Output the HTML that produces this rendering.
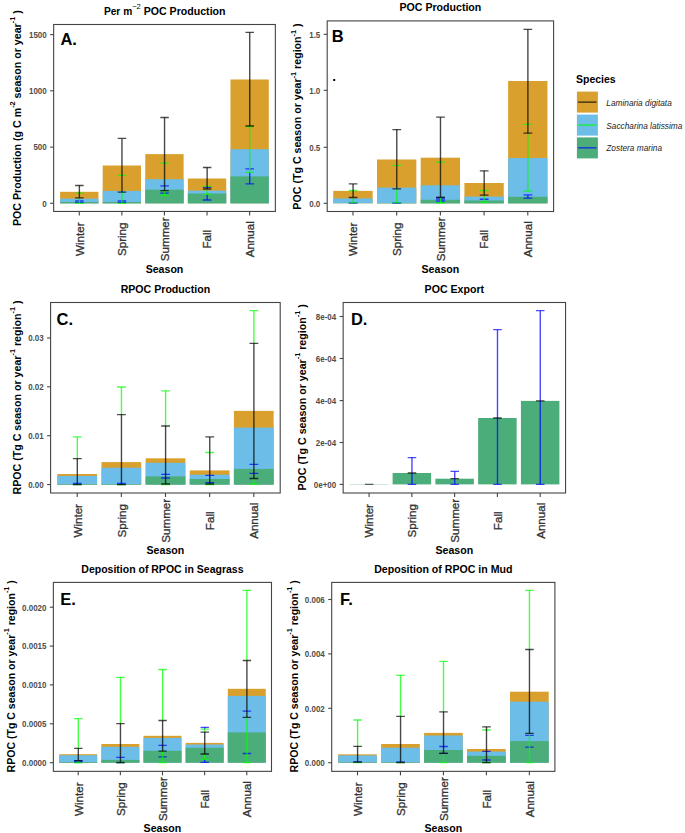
<!DOCTYPE html><html><head><meta charset="utf-8"><style>
html,body{margin:0;padding:0;background:#fff;width:685px;height:833px;overflow:hidden}
svg{display:block}
text{font-family:"Liberation Sans", sans-serif}
</style></head><body>
<svg width="685" height="833" viewBox="0 0 685 833">
<rect width="685" height="833" fill="#fff"/>
<rect x="60.1" y="191.8" width="38.33" height="11.5" fill="#DAA02D"/>
<rect x="60.1" y="198.6" width="38.33" height="4.7" fill="#6CBDE7"/>
<rect x="60.1" y="202" width="38.33" height="1.3" fill="#4BAD7A"/>
<rect x="102.69" y="165.5" width="38.33" height="37.8" fill="#DAA02D"/>
<rect x="102.69" y="190.9" width="38.33" height="12.4" fill="#6CBDE7"/>
<rect x="102.69" y="202" width="38.33" height="1.3" fill="#4BAD7A"/>
<rect x="145.28" y="154.1" width="38.33" height="49.2" fill="#DAA02D"/>
<rect x="145.28" y="179.2" width="38.33" height="24.1" fill="#6CBDE7"/>
<rect x="145.28" y="189.7" width="38.33" height="13.6" fill="#4BAD7A"/>
<rect x="187.88" y="178.5" width="38.33" height="24.8" fill="#DAA02D"/>
<rect x="187.88" y="190.6" width="38.33" height="12.7" fill="#6CBDE7"/>
<rect x="187.88" y="193.5" width="38.33" height="9.8" fill="#4BAD7A"/>
<rect x="230.47" y="79.5" width="38.33" height="123.8" fill="#DAA02D"/>
<rect x="230.47" y="149.2" width="38.33" height="54.1" fill="#6CBDE7"/>
<rect x="230.47" y="176.4" width="38.33" height="26.9" fill="#4BAD7A"/>
<path d="M75.11 200.8H83.63M75.11 202.4H83.63" stroke="#0000FF" stroke-width="1.3" stroke-opacity="0.7" fill="none"/>
<path d="M79.37 197.8V203.4" stroke="#00FF00" stroke-width="1.4" stroke-opacity="0.72" fill="none"/>
<path d="M75.11 193.2H83.63M75.11 203.4H83.63" stroke="#00FF00" stroke-width="1.3" stroke-opacity="0.7" fill="none"/>
<path d="M79.37 185.5V197.8" stroke="#000000" stroke-width="1.4" stroke-opacity="0.72" fill="none"/>
<path d="M75.11 185.5H83.63M75.11 197.8H83.63" stroke="#000000" stroke-width="1.3" stroke-opacity="0.7" fill="none"/>
<path d="M117.7 200.8H126.22M117.7 202.4H126.22" stroke="#0000FF" stroke-width="1.3" stroke-opacity="0.7" fill="none"/>
<path d="M121.96 192.2V203.4" stroke="#00FF00" stroke-width="1.4" stroke-opacity="0.72" fill="none"/>
<path d="M117.7 175.3H126.22M117.7 203.4H126.22" stroke="#00FF00" stroke-width="1.3" stroke-opacity="0.7" fill="none"/>
<path d="M121.96 138.4V192.2" stroke="#000000" stroke-width="1.4" stroke-opacity="0.72" fill="none"/>
<path d="M117.7 138.4H126.22M117.7 192.2H126.22" stroke="#000000" stroke-width="1.3" stroke-opacity="0.7" fill="none"/>
<path d="M160.29 185.8H168.81M160.29 193.2H168.81" stroke="#0000FF" stroke-width="1.3" stroke-opacity="0.7" fill="none"/>
<path d="M164.55 190.6V195.5" stroke="#00FF00" stroke-width="1.4" stroke-opacity="0.72" fill="none"/>
<path d="M160.29 163.1H168.81M160.29 195.5H168.81" stroke="#00FF00" stroke-width="1.3" stroke-opacity="0.7" fill="none"/>
<path d="M164.55 117.5V190.6" stroke="#000000" stroke-width="1.4" stroke-opacity="0.72" fill="none"/>
<path d="M160.29 117.5H168.81M160.29 190.6H168.81" stroke="#000000" stroke-width="1.3" stroke-opacity="0.7" fill="none"/>
<path d="M207.14 194.4V200" stroke="#0000FF" stroke-width="1.4" stroke-opacity="0.72" fill="none"/>
<path d="M202.88 187.4H211.4M202.88 200H211.4" stroke="#0000FF" stroke-width="1.3" stroke-opacity="0.7" fill="none"/>
<path d="M207.14 189V194.4" stroke="#00FF00" stroke-width="1.4" stroke-opacity="0.72" fill="none"/>
<path d="M202.88 186.4H211.4M202.88 194.4H211.4" stroke="#00FF00" stroke-width="1.3" stroke-opacity="0.7" fill="none"/>
<path d="M207.14 167.5V189" stroke="#000000" stroke-width="1.4" stroke-opacity="0.72" fill="none"/>
<path d="M202.88 167.5H211.4M202.88 189H211.4" stroke="#000000" stroke-width="1.3" stroke-opacity="0.7" fill="none"/>
<path d="M249.73 172.4V183.9" stroke="#0000FF" stroke-width="1.4" stroke-opacity="0.72" fill="none"/>
<path d="M245.47 168.9H253.99M245.47 183.9H253.99" stroke="#0000FF" stroke-width="1.3" stroke-opacity="0.7" fill="none"/>
<path d="M249.73 126.5V172.4" stroke="#00FF00" stroke-width="1.4" stroke-opacity="0.72" fill="none"/>
<path d="M245.47 126.5H253.99M245.47 172.4H253.99" stroke="#00FF00" stroke-width="1.3" stroke-opacity="0.7" fill="none"/>
<path d="M249.73 32.4V126" stroke="#000000" stroke-width="1.4" stroke-opacity="0.72" fill="none"/>
<path d="M245.47 32.4H253.99M245.47 126H253.99" stroke="#000000" stroke-width="1.3" stroke-opacity="0.7" fill="none"/>
<rect x="53.65" y="24.5" width="221.7" height="186.95" fill="none" stroke="#444444" stroke-width="1.1"/>
<path d="M50.15 203.3H53.65" stroke="#444444" stroke-width="1.1"/>
<text transform="translate(46.75 206.6) scale(1 1.13)" font-size="8.0" font-weight="bold" fill="#4D4D4D" text-anchor="end">0</text>
<path d="M50.15 147.1H53.65" stroke="#444444" stroke-width="1.1"/>
<text transform="translate(46.75 150.4) scale(1 1.13)" font-size="8.0" font-weight="bold" fill="#4D4D4D" text-anchor="end">500</text>
<path d="M50.15 90.8H53.65" stroke="#444444" stroke-width="1.1"/>
<text transform="translate(46.75 94.1) scale(1 1.13)" font-size="8.0" font-weight="bold" fill="#4D4D4D" text-anchor="end">1000</text>
<path d="M50.15 34.6H53.65" stroke="#444444" stroke-width="1.1"/>
<text transform="translate(46.75 37.9) scale(1 1.13)" font-size="8.0" font-weight="bold" fill="#4D4D4D" text-anchor="end">1500</text>
<path d="M79.27 211.45V215.45" stroke="#444444" stroke-width="1.1"/>
<text transform="translate(83.67 239.25) rotate(-90)" font-size="11.6" fill="#333" stroke="#333" stroke-width="0.3" text-anchor="middle">Winter</text>
<path d="M121.86 211.45V215.45" stroke="#444444" stroke-width="1.1"/>
<text transform="translate(126.26 239.25) rotate(-90)" font-size="11.6" fill="#333" stroke="#333" stroke-width="0.3" text-anchor="middle">Spring</text>
<path d="M164.45 211.45V215.45" stroke="#444444" stroke-width="1.1"/>
<text transform="translate(168.85 239.25) rotate(-90)" font-size="11.6" fill="#333" stroke="#333" stroke-width="0.3" text-anchor="middle">Summer</text>
<path d="M207.04 211.45V215.45" stroke="#444444" stroke-width="1.1"/>
<text transform="translate(211.44 239.25) rotate(-90)" font-size="11.6" fill="#333" stroke="#333" stroke-width="0.3" text-anchor="middle">Fall</text>
<path d="M249.63 211.45V215.45" stroke="#444444" stroke-width="1.1"/>
<text transform="translate(254.03 239.25) rotate(-90)" font-size="11.6" fill="#333" stroke="#333" stroke-width="0.3" text-anchor="middle">Annual</text>
<text x="164.5" y="272.6" font-size="10.6" font-weight="bold" text-anchor="middle">Season</text>
<rect x="333.3" y="190.9" width="39.33" height="12.4" fill="#DAA02D"/>
<rect x="333.3" y="198.4" width="39.33" height="4.9" fill="#6CBDE7"/>
<rect x="377" y="159.5" width="39.33" height="43.8" fill="#DAA02D"/>
<rect x="377" y="187.6" width="39.33" height="15.7" fill="#6CBDE7"/>
<rect x="377" y="203" width="39.33" height="0.3" fill="#4BAD7A"/>
<rect x="420.71" y="157.7" width="39.33" height="45.6" fill="#DAA02D"/>
<rect x="420.71" y="185.3" width="39.33" height="18" fill="#6CBDE7"/>
<rect x="420.71" y="199.8" width="39.33" height="3.5" fill="#4BAD7A"/>
<rect x="464.41" y="183" width="39.33" height="20.3" fill="#DAA02D"/>
<rect x="464.41" y="196.6" width="39.33" height="6.7" fill="#6CBDE7"/>
<rect x="464.41" y="200.5" width="39.33" height="2.8" fill="#4BAD7A"/>
<rect x="508.12" y="81" width="39.33" height="122.3" fill="#DAA02D"/>
<rect x="508.12" y="158" width="39.33" height="45.3" fill="#6CBDE7"/>
<rect x="508.12" y="196.8" width="39.33" height="6.5" fill="#4BAD7A"/>
<path d="M353.07 202.6V203.2" stroke="#0000FF" stroke-width="1.4" stroke-opacity="0.72" fill="none"/>
<path d="M348.7 202.6H357.44M348.7 203.2H357.44" stroke="#0000FF" stroke-width="1.3" stroke-opacity="0.7" fill="none"/>
<path d="M353.07 197.5V202.6" stroke="#00FF00" stroke-width="1.4" stroke-opacity="0.72" fill="none"/>
<path d="M348.7 190.5H357.44M348.7 202.6H357.44" stroke="#00FF00" stroke-width="1.3" stroke-opacity="0.7" fill="none"/>
<path d="M353.07 183.9V197.5" stroke="#000000" stroke-width="1.4" stroke-opacity="0.72" fill="none"/>
<path d="M348.7 183.9H357.44M348.7 197.5H357.44" stroke="#000000" stroke-width="1.3" stroke-opacity="0.7" fill="none"/>
<path d="M396.77 202.6V203.2" stroke="#0000FF" stroke-width="1.4" stroke-opacity="0.72" fill="none"/>
<path d="M392.4 202.6H401.14M392.4 203.2H401.14" stroke="#0000FF" stroke-width="1.3" stroke-opacity="0.7" fill="none"/>
<path d="M396.77 188.8V202.6" stroke="#00FF00" stroke-width="1.4" stroke-opacity="0.72" fill="none"/>
<path d="M392.4 165.4H401.14M392.4 202.6H401.14" stroke="#00FF00" stroke-width="1.3" stroke-opacity="0.7" fill="none"/>
<path d="M396.77 129.6V188.8" stroke="#000000" stroke-width="1.4" stroke-opacity="0.72" fill="none"/>
<path d="M392.4 129.6H401.14M392.4 188.8H401.14" stroke="#000000" stroke-width="1.3" stroke-opacity="0.7" fill="none"/>
<path d="M440.48 197.5V202.6" stroke="#00FF00" stroke-width="1.4" stroke-opacity="0.72" fill="none"/>
<path d="M436.1 162.1H444.85M436.1 202.6H444.85" stroke="#00FF00" stroke-width="1.3" stroke-opacity="0.7" fill="none"/>
<path d="M440.48 117.2V197.5" stroke="#000000" stroke-width="1.4" stroke-opacity="0.72" fill="none"/>
<path d="M436.1 117.2H444.85M436.1 197.5H444.85" stroke="#000000" stroke-width="1.3" stroke-opacity="0.7" fill="none"/>
<path d="M479.81 199.1H488.55M479.81 199.3H488.55" stroke="#0000FF" stroke-width="1.3" stroke-opacity="0.7" fill="none"/>
<path d="M484.18 195.2V202.4" stroke="#00FF00" stroke-width="1.4" stroke-opacity="0.72" fill="none"/>
<path d="M479.81 190.5H488.55M479.81 202.4H488.55" stroke="#00FF00" stroke-width="1.3" stroke-opacity="0.7" fill="none"/>
<path d="M484.18 170.8V195.2" stroke="#000000" stroke-width="1.4" stroke-opacity="0.72" fill="none"/>
<path d="M479.81 170.8H488.55M479.81 195.2H488.55" stroke="#000000" stroke-width="1.3" stroke-opacity="0.7" fill="none"/>
<path d="M527.88 194.9V198.2" stroke="#0000FF" stroke-width="1.4" stroke-opacity="0.72" fill="none"/>
<path d="M523.51 194.9H532.25M523.51 198.2H532.25" stroke="#0000FF" stroke-width="1.3" stroke-opacity="0.7" fill="none"/>
<path d="M527.88 133.2V191.2" stroke="#00FF00" stroke-width="1.4" stroke-opacity="0.72" fill="none"/>
<path d="M523.51 124.3H532.25M523.51 191.2H532.25" stroke="#00FF00" stroke-width="1.3" stroke-opacity="0.7" fill="none"/>
<path d="M527.88 29.4V133.2" stroke="#000000" stroke-width="1.4" stroke-opacity="0.72" fill="none"/>
<path d="M523.51 29.4H532.25M523.51 133.2H532.25" stroke="#000000" stroke-width="1.3" stroke-opacity="0.7" fill="none"/>
<rect x="436.1" y="197.4" width="8.8" height="5.2" fill="#2b3ff0" fill-opacity="0.85"/>
<path d="M440.6 197.6V202.8" stroke="#00ff00" stroke-width="1.4" stroke-opacity="0.8"/>
<path d="M436.1 202.8H444.9" stroke="#00ff00" stroke-width="1.2" stroke-opacity="0.8"/>
<path d="M436.1 197.4H444.9" stroke="#000" stroke-width="1.2" stroke-opacity="0.6"/>
<rect x="327.2" y="20.9" width="226.4" height="190.6" fill="none" stroke="#444444" stroke-width="1.1"/>
<path d="M323.7 203.3H327.2" stroke="#444444" stroke-width="1.1"/>
<text transform="translate(320.3 206.6) scale(1 1.13)" font-size="8.0" font-weight="bold" fill="#4D4D4D" text-anchor="end">0.0</text>
<path d="M323.7 147.3H327.2" stroke="#444444" stroke-width="1.1"/>
<text transform="translate(320.3 150.6) scale(1 1.13)" font-size="8.0" font-weight="bold" fill="#4D4D4D" text-anchor="end">0.5</text>
<path d="M323.7 90.3H327.2" stroke="#444444" stroke-width="1.1"/>
<text transform="translate(320.3 93.6) scale(1 1.13)" font-size="8.0" font-weight="bold" fill="#4D4D4D" text-anchor="end">1.0</text>
<path d="M323.7 34.3H327.2" stroke="#444444" stroke-width="1.1"/>
<text transform="translate(320.3 37.6) scale(1 1.13)" font-size="8.0" font-weight="bold" fill="#4D4D4D" text-anchor="end">1.5</text>
<path d="M352.97 211.5V215.5" stroke="#444444" stroke-width="1.1"/>
<text transform="translate(357.37 239.3) rotate(-90)" font-size="11.6" fill="#333" stroke="#333" stroke-width="0.3" text-anchor="middle">Winter</text>
<path d="M396.67 211.5V215.5" stroke="#444444" stroke-width="1.1"/>
<text transform="translate(401.07 239.3) rotate(-90)" font-size="11.6" fill="#333" stroke="#333" stroke-width="0.3" text-anchor="middle">Spring</text>
<path d="M440.38 211.5V215.5" stroke="#444444" stroke-width="1.1"/>
<text transform="translate(444.77 239.3) rotate(-90)" font-size="11.6" fill="#333" stroke="#333" stroke-width="0.3" text-anchor="middle">Summer</text>
<path d="M484.08 211.5V215.5" stroke="#444444" stroke-width="1.1"/>
<text transform="translate(488.48 239.3) rotate(-90)" font-size="11.6" fill="#333" stroke="#333" stroke-width="0.3" text-anchor="middle">Fall</text>
<path d="M527.78 211.5V215.5" stroke="#444444" stroke-width="1.1"/>
<text transform="translate(532.18 239.3) rotate(-90)" font-size="11.6" fill="#333" stroke="#333" stroke-width="0.3" text-anchor="middle">Annual</text>
<text x="440.4" y="272.6" font-size="10.6" font-weight="bold" text-anchor="middle">Season</text>
<rect x="57.35" y="474" width="39.73" height="10.6" fill="#DAA02D"/>
<rect x="57.35" y="475.9" width="39.73" height="8.7" fill="#6CBDE7"/>
<rect x="57.35" y="484" width="39.73" height="0.6" fill="#4BAD7A"/>
<rect x="101.49" y="462.1" width="39.73" height="22.5" fill="#DAA02D"/>
<rect x="101.49" y="467.7" width="39.73" height="16.9" fill="#6CBDE7"/>
<rect x="101.49" y="484" width="39.73" height="0.6" fill="#4BAD7A"/>
<rect x="145.64" y="458.3" width="39.73" height="26.3" fill="#DAA02D"/>
<rect x="145.64" y="462.8" width="39.73" height="21.8" fill="#6CBDE7"/>
<rect x="145.64" y="476.4" width="39.73" height="8.2" fill="#4BAD7A"/>
<rect x="189.78" y="470.4" width="39.73" height="14.2" fill="#DAA02D"/>
<rect x="189.78" y="474.7" width="39.73" height="9.9" fill="#6CBDE7"/>
<rect x="189.78" y="479" width="39.73" height="5.6" fill="#4BAD7A"/>
<rect x="233.92" y="410.9" width="39.73" height="73.7" fill="#DAA02D"/>
<rect x="233.92" y="427.6" width="39.73" height="57" fill="#6CBDE7"/>
<rect x="233.92" y="468.9" width="39.73" height="15.7" fill="#4BAD7A"/>
<path d="M72.9 483.4H81.73M72.9 484H81.73" stroke="#0000FF" stroke-width="1.3" stroke-opacity="0.7" fill="none"/>
<path d="M77.31 436.9V458.6" stroke="#00FF00" stroke-width="1.4" stroke-opacity="0.72" fill="none"/>
<path d="M72.9 436.9H81.73M72.9 484.6H81.73" stroke="#00FF00" stroke-width="1.3" stroke-opacity="0.7" fill="none"/>
<path d="M77.31 458.6V484.6" stroke="#000000" stroke-width="1.4" stroke-opacity="0.72" fill="none"/>
<path d="M72.9 458.6H81.73M72.9 484.6H81.73" stroke="#000000" stroke-width="1.3" stroke-opacity="0.7" fill="none"/>
<path d="M117.04 483.4H125.87M117.04 484H125.87" stroke="#0000FF" stroke-width="1.3" stroke-opacity="0.7" fill="none"/>
<path d="M121.46 387V414.7" stroke="#00FF00" stroke-width="1.4" stroke-opacity="0.72" fill="none"/>
<path d="M117.04 387H125.87M117.04 484.6H125.87" stroke="#00FF00" stroke-width="1.3" stroke-opacity="0.7" fill="none"/>
<path d="M121.46 414.7V484.6" stroke="#000000" stroke-width="1.4" stroke-opacity="0.72" fill="none"/>
<path d="M117.04 414.7H125.87M117.04 484.6H125.87" stroke="#000000" stroke-width="1.3" stroke-opacity="0.7" fill="none"/>
<path d="M161.19 474.4H170.01M161.19 478H170.01" stroke="#0000FF" stroke-width="1.3" stroke-opacity="0.7" fill="none"/>
<path d="M165.6 390.8V426" stroke="#00FF00" stroke-width="1.4" stroke-opacity="0.72" fill="none"/>
<path d="M165.6 484V484.6" stroke="#00FF00" stroke-width="1.4" stroke-opacity="0.72" fill="none"/>
<path d="M161.19 390.8H170.01M161.19 484.6H170.01" stroke="#00FF00" stroke-width="1.3" stroke-opacity="0.7" fill="none"/>
<path d="M165.6 426V484" stroke="#000000" stroke-width="1.4" stroke-opacity="0.72" fill="none"/>
<path d="M161.19 426H170.01M161.19 484H170.01" stroke="#000000" stroke-width="1.3" stroke-opacity="0.7" fill="none"/>
<path d="M205.33 475.4H214.16M205.33 482.7H214.16" stroke="#0000FF" stroke-width="1.3" stroke-opacity="0.7" fill="none"/>
<path d="M209.74 484V484.6" stroke="#00FF00" stroke-width="1.4" stroke-opacity="0.72" fill="none"/>
<path d="M205.33 452.5H214.16M205.33 484.6H214.16" stroke="#00FF00" stroke-width="1.3" stroke-opacity="0.7" fill="none"/>
<path d="M209.74 436.9V484" stroke="#000000" stroke-width="1.4" stroke-opacity="0.72" fill="none"/>
<path d="M205.33 436.9H214.16M205.33 484H214.16" stroke="#000000" stroke-width="1.3" stroke-opacity="0.7" fill="none"/>
<path d="M249.47 464.3H258.3M249.47 473.4H258.3" stroke="#0000FF" stroke-width="1.3" stroke-opacity="0.7" fill="none"/>
<path d="M253.89 310.7V343.4" stroke="#00FF00" stroke-width="1.4" stroke-opacity="0.72" fill="none"/>
<path d="M253.89 478.5V484" stroke="#00FF00" stroke-width="1.4" stroke-opacity="0.72" fill="none"/>
<path d="M249.47 310.7H258.3M249.47 484H258.3" stroke="#00FF00" stroke-width="1.3" stroke-opacity="0.7" fill="none"/>
<path d="M253.89 343.4V478.5" stroke="#000000" stroke-width="1.4" stroke-opacity="0.72" fill="none"/>
<path d="M249.47 343.4H258.3M249.47 478.5H258.3" stroke="#000000" stroke-width="1.3" stroke-opacity="0.7" fill="none"/>
<rect x="50.6" y="302.5" width="229.6" height="190.5" fill="none" stroke="#444444" stroke-width="1.1"/>
<path d="M47.1 484.6H50.6" stroke="#444444" stroke-width="1.1"/>
<text transform="translate(43.7 487.9) scale(1 1.13)" font-size="8.0" font-weight="bold" fill="#4D4D4D" text-anchor="end">0.00</text>
<path d="M47.1 435.7H50.6" stroke="#444444" stroke-width="1.1"/>
<text transform="translate(43.7 439) scale(1 1.13)" font-size="8.0" font-weight="bold" fill="#4D4D4D" text-anchor="end">0.01</text>
<path d="M47.1 386.8H50.6" stroke="#444444" stroke-width="1.1"/>
<text transform="translate(43.7 390.1) scale(1 1.13)" font-size="8.0" font-weight="bold" fill="#4D4D4D" text-anchor="end">0.02</text>
<path d="M47.1 338H50.6" stroke="#444444" stroke-width="1.1"/>
<text transform="translate(43.7 341.3) scale(1 1.13)" font-size="8.0" font-weight="bold" fill="#4D4D4D" text-anchor="end">0.03</text>
<path d="M77.21 493V497" stroke="#444444" stroke-width="1.1"/>
<text transform="translate(81.61 520.8) rotate(-90)" font-size="11.6" fill="#333" stroke="#333" stroke-width="0.3" text-anchor="middle">Winter</text>
<path d="M121.36 493V497" stroke="#444444" stroke-width="1.1"/>
<text transform="translate(125.76 520.8) rotate(-90)" font-size="11.6" fill="#333" stroke="#333" stroke-width="0.3" text-anchor="middle">Spring</text>
<path d="M165.5 493V497" stroke="#444444" stroke-width="1.1"/>
<text transform="translate(169.9 520.8) rotate(-90)" font-size="11.6" fill="#333" stroke="#333" stroke-width="0.3" text-anchor="middle">Summer</text>
<path d="M209.64 493V497" stroke="#444444" stroke-width="1.1"/>
<text transform="translate(214.04 520.8) rotate(-90)" font-size="11.6" fill="#333" stroke="#333" stroke-width="0.3" text-anchor="middle">Fall</text>
<path d="M253.79 493V497" stroke="#444444" stroke-width="1.1"/>
<text transform="translate(258.19 520.8) rotate(-90)" font-size="11.6" fill="#333" stroke="#333" stroke-width="0.3" text-anchor="middle">Annual</text>
<text x="165.4" y="554" font-size="10.6" font-weight="bold" text-anchor="middle">Season</text>
<rect x="392.62" y="473" width="38.49" height="11.4" fill="#4BAD7A"/>
<rect x="435.38" y="478.7" width="38.49" height="5.7" fill="#4BAD7A"/>
<rect x="478.15" y="418" width="38.49" height="66.4" fill="#4BAD7A"/>
<rect x="520.91" y="400.9" width="38.49" height="83.5" fill="#4BAD7A"/>
<path d="M364.92 484.4H373.47M364.92 484.4H373.47" stroke="#000000" stroke-width="1.3" stroke-opacity="0.7" fill="none"/>
<path d="M411.96 457.6V473" stroke="#0000FF" stroke-width="1.4" stroke-opacity="0.72" fill="none"/>
<path d="M411.96 473V484.4" stroke="#0000FF" stroke-width="1.4" stroke-opacity="0.72" fill="none"/>
<path d="M407.68 457.6H416.24M407.68 484.4H416.24" stroke="#0000FF" stroke-width="1.3" stroke-opacity="0.7" fill="none"/>
<path d="M407.68 473H416.24M407.68 473H416.24" stroke="#000000" stroke-width="1.3" stroke-opacity="0.7" fill="none"/>
<path d="M454.73 471.4V478.7" stroke="#0000FF" stroke-width="1.4" stroke-opacity="0.72" fill="none"/>
<path d="M454.73 478.7V484.4" stroke="#0000FF" stroke-width="1.4" stroke-opacity="0.72" fill="none"/>
<path d="M450.45 471.4H459M450.45 484.4H459" stroke="#0000FF" stroke-width="1.3" stroke-opacity="0.7" fill="none"/>
<path d="M450.45 478.7H459M450.45 478.7H459" stroke="#000000" stroke-width="1.3" stroke-opacity="0.7" fill="none"/>
<path d="M497.49 329.6V418" stroke="#0000FF" stroke-width="1.4" stroke-opacity="0.72" fill="none"/>
<path d="M497.49 418V484.4" stroke="#0000FF" stroke-width="1.4" stroke-opacity="0.72" fill="none"/>
<path d="M493.21 329.6H501.77M493.21 484.4H501.77" stroke="#0000FF" stroke-width="1.3" stroke-opacity="0.7" fill="none"/>
<path d="M493.21 418H501.77M493.21 418H501.77" stroke="#000000" stroke-width="1.3" stroke-opacity="0.7" fill="none"/>
<path d="M540.26 310.7V400.9" stroke="#0000FF" stroke-width="1.4" stroke-opacity="0.72" fill="none"/>
<path d="M540.26 400.9V484.4" stroke="#0000FF" stroke-width="1.4" stroke-opacity="0.72" fill="none"/>
<path d="M535.98 310.7H544.53M535.98 484.4H544.53" stroke="#0000FF" stroke-width="1.3" stroke-opacity="0.7" fill="none"/>
<path d="M535.98 400.9H544.53M535.98 400.9H544.53" stroke="#000000" stroke-width="1.3" stroke-opacity="0.7" fill="none"/>
<rect x="349.9" y="484" width="38.5" height="0.8" fill="#4BAD7A" fill-opacity="0.35"/>
<rect x="343.15" y="302.5" width="222.4" height="190.5" fill="none" stroke="#444444" stroke-width="1.1"/>
<path d="M339.65 484.4H343.15" stroke="#444444" stroke-width="1.1"/>
<text transform="translate(336.25 487.7) scale(1 1.13)" font-size="8.0" font-weight="bold" fill="#4D4D4D" text-anchor="end">0e+00</text>
<path d="M339.65 442.5H343.15" stroke="#444444" stroke-width="1.1"/>
<text transform="translate(336.25 445.8) scale(1 1.13)" font-size="8.0" font-weight="bold" fill="#4D4D4D" text-anchor="end">2e-04</text>
<path d="M339.65 400.6H343.15" stroke="#444444" stroke-width="1.1"/>
<text transform="translate(336.25 403.9) scale(1 1.13)" font-size="8.0" font-weight="bold" fill="#4D4D4D" text-anchor="end">4e-04</text>
<path d="M339.65 358.5H343.15" stroke="#444444" stroke-width="1.1"/>
<text transform="translate(336.25 361.8) scale(1 1.13)" font-size="8.0" font-weight="bold" fill="#4D4D4D" text-anchor="end">6e-04</text>
<path d="M339.65 316.5H343.15" stroke="#444444" stroke-width="1.1"/>
<text transform="translate(336.25 319.8) scale(1 1.13)" font-size="8.0" font-weight="bold" fill="#4D4D4D" text-anchor="end">8e-04</text>
<path d="M369.09 493V497" stroke="#444444" stroke-width="1.1"/>
<text transform="translate(373.49 520.8) rotate(-90)" font-size="11.6" fill="#333" stroke="#333" stroke-width="0.3" text-anchor="middle">Winter</text>
<path d="M411.86 493V497" stroke="#444444" stroke-width="1.1"/>
<text transform="translate(416.26 520.8) rotate(-90)" font-size="11.6" fill="#333" stroke="#333" stroke-width="0.3" text-anchor="middle">Spring</text>
<path d="M454.62 493V497" stroke="#444444" stroke-width="1.1"/>
<text transform="translate(459.02 520.8) rotate(-90)" font-size="11.6" fill="#333" stroke="#333" stroke-width="0.3" text-anchor="middle">Summer</text>
<path d="M497.39 493V497" stroke="#444444" stroke-width="1.1"/>
<text transform="translate(501.79 520.8) rotate(-90)" font-size="11.6" fill="#333" stroke="#333" stroke-width="0.3" text-anchor="middle">Fall</text>
<path d="M540.16 493V497" stroke="#444444" stroke-width="1.1"/>
<text transform="translate(544.56 520.8) rotate(-90)" font-size="11.6" fill="#333" stroke="#333" stroke-width="0.3" text-anchor="middle">Annual</text>
<text x="454.35" y="554" font-size="10.6" font-weight="bold" text-anchor="middle">Season</text>
<rect x="59.25" y="754.2" width="37.93" height="8.5" fill="#DAA02D"/>
<rect x="59.25" y="755.2" width="37.93" height="7.5" fill="#6CBDE7"/>
<rect x="59.25" y="762" width="37.93" height="0.7" fill="#4BAD7A"/>
<rect x="101.39" y="744" width="37.93" height="18.7" fill="#DAA02D"/>
<rect x="101.39" y="746.8" width="37.93" height="15.9" fill="#6CBDE7"/>
<rect x="101.39" y="759.9" width="37.93" height="2.8" fill="#4BAD7A"/>
<rect x="143.54" y="735.8" width="37.93" height="26.9" fill="#DAA02D"/>
<rect x="143.54" y="737.9" width="37.93" height="24.8" fill="#6CBDE7"/>
<rect x="143.54" y="750.8" width="37.93" height="11.9" fill="#4BAD7A"/>
<rect x="185.68" y="742.9" width="37.93" height="19.8" fill="#DAA02D"/>
<rect x="185.68" y="744.5" width="37.93" height="18.2" fill="#6CBDE7"/>
<rect x="185.68" y="747.7" width="37.93" height="15" fill="#4BAD7A"/>
<rect x="227.82" y="688.8" width="37.93" height="73.9" fill="#DAA02D"/>
<rect x="227.82" y="695.9" width="37.93" height="66.8" fill="#6CBDE7"/>
<rect x="227.82" y="732.4" width="37.93" height="30.3" fill="#4BAD7A"/>
<path d="M74.1 760.9H82.53M74.1 762H82.53" stroke="#0000FF" stroke-width="1.3" stroke-opacity="0.7" fill="none"/>
<path d="M78.31 718.6V748.4" stroke="#00FF00" stroke-width="1.4" stroke-opacity="0.72" fill="none"/>
<path d="M78.31 760.6V762.9" stroke="#00FF00" stroke-width="1.4" stroke-opacity="0.72" fill="none"/>
<path d="M74.1 718.6H82.53M74.1 762.9H82.53" stroke="#00FF00" stroke-width="1.3" stroke-opacity="0.7" fill="none"/>
<path d="M78.31 748.4V760.6" stroke="#000000" stroke-width="1.4" stroke-opacity="0.72" fill="none"/>
<path d="M74.1 748.4H82.53M74.1 760.6H82.53" stroke="#000000" stroke-width="1.3" stroke-opacity="0.7" fill="none"/>
<path d="M116.24 757.3H124.67M116.24 762.5H124.67" stroke="#0000FF" stroke-width="1.3" stroke-opacity="0.7" fill="none"/>
<path d="M120.46 677.3V723.6" stroke="#00FF00" stroke-width="1.4" stroke-opacity="0.72" fill="none"/>
<path d="M116.24 677.3H124.67M116.24 762.7H124.67" stroke="#00FF00" stroke-width="1.3" stroke-opacity="0.7" fill="none"/>
<path d="M120.46 723.6V762.7" stroke="#000000" stroke-width="1.4" stroke-opacity="0.72" fill="none"/>
<path d="M116.24 723.6H124.67M116.24 762.7H124.67" stroke="#000000" stroke-width="1.3" stroke-opacity="0.7" fill="none"/>
<path d="M158.39 745.3H166.81M158.39 756.9H166.81" stroke="#0000FF" stroke-width="1.3" stroke-opacity="0.7" fill="none"/>
<path d="M162.6 669.5V720.5" stroke="#00FF00" stroke-width="1.4" stroke-opacity="0.72" fill="none"/>
<path d="M162.6 751.1V762.7" stroke="#00FF00" stroke-width="1.4" stroke-opacity="0.72" fill="none"/>
<path d="M158.39 669.5H166.81M158.39 762.7H166.81" stroke="#00FF00" stroke-width="1.3" stroke-opacity="0.7" fill="none"/>
<path d="M162.6 720.5V751.1" stroke="#000000" stroke-width="1.4" stroke-opacity="0.72" fill="none"/>
<path d="M158.39 720.5H166.81M158.39 751.1H166.81" stroke="#000000" stroke-width="1.3" stroke-opacity="0.7" fill="none"/>
<path d="M204.74 727.3V729.2" stroke="#0000FF" stroke-width="1.4" stroke-opacity="0.72" fill="none"/>
<path d="M204.74 759.3V762.4" stroke="#0000FF" stroke-width="1.4" stroke-opacity="0.72" fill="none"/>
<path d="M200.53 727.3H208.96M200.53 762.4H208.96" stroke="#0000FF" stroke-width="1.3" stroke-opacity="0.7" fill="none"/>
<path d="M204.74 729.2V732.1" stroke="#00FF00" stroke-width="1.4" stroke-opacity="0.72" fill="none"/>
<path d="M204.74 754V759.3" stroke="#00FF00" stroke-width="1.4" stroke-opacity="0.72" fill="none"/>
<path d="M200.53 729.2H208.96M200.53 759.3H208.96" stroke="#00FF00" stroke-width="1.3" stroke-opacity="0.7" fill="none"/>
<path d="M204.74 732.1V754" stroke="#000000" stroke-width="1.4" stroke-opacity="0.72" fill="none"/>
<path d="M200.53 732.1H208.96M200.53 754H208.96" stroke="#000000" stroke-width="1.3" stroke-opacity="0.7" fill="none"/>
<path d="M242.67 711.2H251.1M242.67 753.5H251.1" stroke="#0000FF" stroke-width="1.3" stroke-opacity="0.7" fill="none"/>
<path d="M246.89 590.3V660.5" stroke="#00FF00" stroke-width="1.4" stroke-opacity="0.72" fill="none"/>
<path d="M246.89 717.3V762.7" stroke="#00FF00" stroke-width="1.4" stroke-opacity="0.72" fill="none"/>
<path d="M242.67 590.3H251.1M242.67 762.7H251.1" stroke="#00FF00" stroke-width="1.3" stroke-opacity="0.7" fill="none"/>
<path d="M246.89 660.5V717.3" stroke="#000000" stroke-width="1.4" stroke-opacity="0.72" fill="none"/>
<path d="M242.67 660.5H251.1M242.67 717.3H251.1" stroke="#000000" stroke-width="1.3" stroke-opacity="0.7" fill="none"/>
<rect x="53.35" y="582.4" width="218.15" height="188.95" fill="none" stroke="#444444" stroke-width="1.1"/>
<path d="M49.85 762.7H53.35" stroke="#444444" stroke-width="1.1"/>
<text transform="translate(46.45 766) scale(1 1.13)" font-size="8.0" font-weight="bold" fill="#4D4D4D" text-anchor="end">0.0000</text>
<path d="M49.85 723.8H53.35" stroke="#444444" stroke-width="1.1"/>
<text transform="translate(46.45 727.1) scale(1 1.13)" font-size="8.0" font-weight="bold" fill="#4D4D4D" text-anchor="end">0.0005</text>
<path d="M49.85 684.9H53.35" stroke="#444444" stroke-width="1.1"/>
<text transform="translate(46.45 688.2) scale(1 1.13)" font-size="8.0" font-weight="bold" fill="#4D4D4D" text-anchor="end">0.0010</text>
<path d="M49.85 646.1H53.35" stroke="#444444" stroke-width="1.1"/>
<text transform="translate(46.45 649.4) scale(1 1.13)" font-size="8.0" font-weight="bold" fill="#4D4D4D" text-anchor="end">0.0015</text>
<path d="M49.85 607.2H53.35" stroke="#444444" stroke-width="1.1"/>
<text transform="translate(46.45 610.5) scale(1 1.13)" font-size="8.0" font-weight="bold" fill="#4D4D4D" text-anchor="end">0.0020</text>
<path d="M78.21 771.35V775.35" stroke="#444444" stroke-width="1.1"/>
<text transform="translate(82.61 799.15) rotate(-90)" font-size="11.6" fill="#333" stroke="#333" stroke-width="0.3" text-anchor="middle">Winter</text>
<path d="M120.36 771.35V775.35" stroke="#444444" stroke-width="1.1"/>
<text transform="translate(124.76 799.15) rotate(-90)" font-size="11.6" fill="#333" stroke="#333" stroke-width="0.3" text-anchor="middle">Spring</text>
<path d="M162.5 771.35V775.35" stroke="#444444" stroke-width="1.1"/>
<text transform="translate(166.9 799.15) rotate(-90)" font-size="11.6" fill="#333" stroke="#333" stroke-width="0.3" text-anchor="middle">Summer</text>
<path d="M204.64 771.35V775.35" stroke="#444444" stroke-width="1.1"/>
<text transform="translate(209.04 799.15) rotate(-90)" font-size="11.6" fill="#333" stroke="#333" stroke-width="0.3" text-anchor="middle">Fall</text>
<path d="M246.79 771.35V775.35" stroke="#444444" stroke-width="1.1"/>
<text transform="translate(251.19 799.15) rotate(-90)" font-size="11.6" fill="#333" stroke="#333" stroke-width="0.3" text-anchor="middle">Annual</text>
<text x="162.43" y="832.35" font-size="10.6" font-weight="bold" text-anchor="middle">Season</text>
<rect x="338.15" y="754.3" width="38.67" height="8.4" fill="#DAA02D"/>
<rect x="338.15" y="755.4" width="38.67" height="7.3" fill="#6CBDE7"/>
<rect x="338.15" y="762.2" width="38.67" height="0.5" fill="#4BAD7A"/>
<rect x="381.12" y="744" width="38.67" height="18.7" fill="#DAA02D"/>
<rect x="381.12" y="747.7" width="38.67" height="15" fill="#6CBDE7"/>
<rect x="381.12" y="762.2" width="38.67" height="0.5" fill="#4BAD7A"/>
<rect x="424.09" y="732.9" width="38.67" height="29.8" fill="#DAA02D"/>
<rect x="424.09" y="735.5" width="38.67" height="27.2" fill="#6CBDE7"/>
<rect x="424.09" y="750" width="38.67" height="12.7" fill="#4BAD7A"/>
<rect x="467.06" y="749" width="38.67" height="13.7" fill="#DAA02D"/>
<rect x="467.06" y="751.6" width="38.67" height="11.1" fill="#6CBDE7"/>
<rect x="467.06" y="755.8" width="38.67" height="6.9" fill="#4BAD7A"/>
<rect x="510.03" y="691.7" width="38.67" height="71" fill="#DAA02D"/>
<rect x="510.03" y="701.7" width="38.67" height="61" fill="#6CBDE7"/>
<rect x="510.03" y="741.1" width="38.67" height="21.6" fill="#4BAD7A"/>
<path d="M353.29 761.8H361.88M353.29 762.2H361.88" stroke="#0000FF" stroke-width="1.3" stroke-opacity="0.7" fill="none"/>
<path d="M357.59 720V746.3" stroke="#00FF00" stroke-width="1.4" stroke-opacity="0.72" fill="none"/>
<path d="M357.59 762.2V762.7" stroke="#00FF00" stroke-width="1.4" stroke-opacity="0.72" fill="none"/>
<path d="M353.29 720H361.88M353.29 762.7H361.88" stroke="#00FF00" stroke-width="1.3" stroke-opacity="0.7" fill="none"/>
<path d="M357.59 746.3V762.2" stroke="#000000" stroke-width="1.4" stroke-opacity="0.72" fill="none"/>
<path d="M353.29 746.3H361.88M353.29 762.2H361.88" stroke="#000000" stroke-width="1.3" stroke-opacity="0.7" fill="none"/>
<path d="M396.26 761.8H404.85M396.26 762.2H404.85" stroke="#0000FF" stroke-width="1.3" stroke-opacity="0.7" fill="none"/>
<path d="M400.56 675.4V716.4" stroke="#00FF00" stroke-width="1.4" stroke-opacity="0.72" fill="none"/>
<path d="M396.26 675.4H404.85M396.26 762.7H404.85" stroke="#00FF00" stroke-width="1.3" stroke-opacity="0.7" fill="none"/>
<path d="M400.56 716.4V762.7" stroke="#000000" stroke-width="1.4" stroke-opacity="0.72" fill="none"/>
<path d="M396.26 716.4H404.85M396.26 762.7H404.85" stroke="#000000" stroke-width="1.3" stroke-opacity="0.7" fill="none"/>
<path d="M439.23 746.5H447.82M439.23 753.4H447.82" stroke="#0000FF" stroke-width="1.3" stroke-opacity="0.7" fill="none"/>
<path d="M443.53 661.3V711.8" stroke="#00FF00" stroke-width="1.4" stroke-opacity="0.72" fill="none"/>
<path d="M443.53 753.4V762.7" stroke="#00FF00" stroke-width="1.4" stroke-opacity="0.72" fill="none"/>
<path d="M439.23 661.3H447.82M439.23 762.7H447.82" stroke="#00FF00" stroke-width="1.3" stroke-opacity="0.7" fill="none"/>
<path d="M443.53 711.8V753.4" stroke="#000000" stroke-width="1.4" stroke-opacity="0.72" fill="none"/>
<path d="M439.23 711.8H447.82M439.23 753.4H447.82" stroke="#000000" stroke-width="1.3" stroke-opacity="0.7" fill="none"/>
<path d="M482.2 751.4H490.79M482.2 760H490.79" stroke="#0000FF" stroke-width="1.3" stroke-opacity="0.7" fill="none"/>
<path d="M482.2 730H490.79M482.2 762.7H490.79" stroke="#00FF00" stroke-width="1.3" stroke-opacity="0.7" fill="none"/>
<path d="M486.49 726.8V762.7" stroke="#000000" stroke-width="1.4" stroke-opacity="0.72" fill="none"/>
<path d="M482.2 726.8H490.79M482.2 762.7H490.79" stroke="#000000" stroke-width="1.3" stroke-opacity="0.7" fill="none"/>
<path d="M525.17 735.3H533.76M525.17 747.1H533.76" stroke="#0000FF" stroke-width="1.3" stroke-opacity="0.7" fill="none"/>
<path d="M529.46 590.3V649.5" stroke="#00FF00" stroke-width="1.4" stroke-opacity="0.72" fill="none"/>
<path d="M529.46 733.4V762.7" stroke="#00FF00" stroke-width="1.4" stroke-opacity="0.72" fill="none"/>
<path d="M525.17 590.3H533.76M525.17 762.7H533.76" stroke="#00FF00" stroke-width="1.3" stroke-opacity="0.7" fill="none"/>
<path d="M529.46 649.5V733.4" stroke="#000000" stroke-width="1.4" stroke-opacity="0.72" fill="none"/>
<path d="M525.17 649.5H533.76M525.17 733.4H533.76" stroke="#000000" stroke-width="1.3" stroke-opacity="0.7" fill="none"/>
<rect x="331.7" y="582.4" width="223.2" height="188.95" fill="none" stroke="#444444" stroke-width="1.1"/>
<path d="M328.2 762.7H331.7" stroke="#444444" stroke-width="1.1"/>
<text transform="translate(324.8 766) scale(1 1.13)" font-size="8.0" font-weight="bold" fill="#4D4D4D" text-anchor="end">0.000</text>
<path d="M328.2 708.3H331.7" stroke="#444444" stroke-width="1.1"/>
<text transform="translate(324.8 711.6) scale(1 1.13)" font-size="8.0" font-weight="bold" fill="#4D4D4D" text-anchor="end">0.002</text>
<path d="M328.2 653.9H331.7" stroke="#444444" stroke-width="1.1"/>
<text transform="translate(324.8 657.2) scale(1 1.13)" font-size="8.0" font-weight="bold" fill="#4D4D4D" text-anchor="end">0.004</text>
<path d="M328.2 599.5H331.7" stroke="#444444" stroke-width="1.1"/>
<text transform="translate(324.8 602.8) scale(1 1.13)" font-size="8.0" font-weight="bold" fill="#4D4D4D" text-anchor="end">0.006</text>
<path d="M357.49 771.35V775.35" stroke="#444444" stroke-width="1.1"/>
<text transform="translate(361.89 799.15) rotate(-90)" font-size="11.6" fill="#333" stroke="#333" stroke-width="0.3" text-anchor="middle">Winter</text>
<path d="M400.46 771.35V775.35" stroke="#444444" stroke-width="1.1"/>
<text transform="translate(404.86 799.15) rotate(-90)" font-size="11.6" fill="#333" stroke="#333" stroke-width="0.3" text-anchor="middle">Spring</text>
<path d="M443.43 771.35V775.35" stroke="#444444" stroke-width="1.1"/>
<text transform="translate(447.82 799.15) rotate(-90)" font-size="11.6" fill="#333" stroke="#333" stroke-width="0.3" text-anchor="middle">Summer</text>
<path d="M486.39 771.35V775.35" stroke="#444444" stroke-width="1.1"/>
<text transform="translate(490.79 799.15) rotate(-90)" font-size="11.6" fill="#333" stroke="#333" stroke-width="0.3" text-anchor="middle">Fall</text>
<path d="M529.36 771.35V775.35" stroke="#444444" stroke-width="1.1"/>
<text transform="translate(533.76 799.15) rotate(-90)" font-size="11.6" fill="#333" stroke="#333" stroke-width="0.3" text-anchor="middle">Annual</text>
<text x="443.3" y="832.35" font-size="10.6" font-weight="bold" text-anchor="middle">Season</text>
<text x="103.9" y="14.6" font-size="10.6" font-weight="bold" text-anchor="start"><tspan font-size="10.2">Per m</tspan><tspan font-weight="normal" font-size="7.5" dy="-6.1">&#8722;2</tspan><tspan dy="6.1"> POC Production</tspan></text>
<text x="440.4" y="11.1" font-size="10.6" font-weight="bold" text-anchor="middle">POC Production</text>
<text x="165.4" y="293.2" font-size="10.6" font-weight="bold" text-anchor="middle">RPOC Production</text>
<text x="454.35" y="293.2" font-size="10.6" font-weight="bold" text-anchor="middle">POC Export</text>
<text x="162.4" y="573.1" font-size="10.5" font-weight="bold" text-anchor="middle">Deposition of RPOC in Seagrass</text>
<text x="443.3" y="573.1" font-size="10.6" font-weight="bold" text-anchor="middle">Deposition of RPOC in Mud</text>
<text x="60.4" y="45.3" font-size="16.5" font-weight="bold">A.</text>
<text x="331.8" y="42.3" font-size="16.5" font-weight="bold">B</text>
<rect x="333.2" y="79" width="2" height="2" fill="#000"/>
<text x="56.6" y="324.5" font-size="16.5" font-weight="bold">C.</text>
<text x="350.9" y="324.5" font-size="16.5" font-weight="bold">D.</text>
<text x="60.3" y="604.5" font-size="16.5" font-weight="bold">E.</text>
<text x="340.0" y="604.5" font-size="16.5" font-weight="bold">F.</text>
<text transform="translate(20.8 118.2) rotate(-90)" font-size="10.65" font-weight="bold" text-anchor="middle">POC Production (g C m<tspan font-size="7.3" dy="-5.6">-2</tspan><tspan dy="5.6"> season or year</tspan><tspan font-size="7.3" dy="-5.6">-1</tspan><tspan dy="5.6"> )</tspan></text>
<text transform="translate(301.1 116.5) rotate(-90)" font-size="10.65" font-weight="bold" text-anchor="middle">POC (Tg C season or year<tspan font-size="7.3" dy="-5.6">-1</tspan><tspan dy="5.6"> region</tspan><tspan font-size="7.3" dy="-5.6">-1</tspan><tspan dy="5.6"> )</tspan></text>
<text transform="translate(20.5 397.5) rotate(-90)" font-size="10.65" font-weight="bold" text-anchor="middle">RPOC (Tg C season or year<tspan font-size="7.3" dy="-5.6">-1</tspan><tspan dy="5.6"> region</tspan><tspan font-size="7.3" dy="-5.6">-1</tspan><tspan dy="5.6"> )</tspan></text>
<text transform="translate(305.9 397.4) rotate(-90)" font-size="10.65" font-weight="bold" text-anchor="middle">POC (Tg C season or year<tspan font-size="7.3" dy="-5.6">-1</tspan><tspan dy="5.6"> region</tspan><tspan font-size="7.3" dy="-5.6">-1</tspan><tspan dy="5.6"> )</tspan></text>
<text transform="translate(14.7 676.3) rotate(-90)" font-size="10.55" font-weight="bold" text-anchor="middle">RPOC (Tg C season or year<tspan font-size="7.3" dy="-5.6">-1</tspan><tspan dy="5.6"> region</tspan><tspan font-size="7.3" dy="-5.6">-1</tspan><tspan dy="5.6"> )</tspan></text>
<text transform="translate(297.7 676.3) rotate(-90)" font-size="10.55" font-weight="bold" text-anchor="middle">RPOC (Tg C season or year<tspan font-size="7.3" dy="-5.6">-1</tspan><tspan dy="5.6"> region</tspan><tspan font-size="7.3" dy="-5.6">-1</tspan><tspan dy="5.6"> )</tspan></text>
<text x="576" y="82.5" font-size="10.5" font-weight="bold">Species</text>
<rect x="576.9" y="91.6" width="21" height="21" fill="#DAA02D"/>
<path d="M578.1 102.1H596.5" stroke="#000000" stroke-width="1"/>
<text x="606.3" y="105.6" font-size="8.3" font-style="italic" fill="#222">Laminaria digitata</text>
<rect x="576.9" y="114.6" width="21" height="21" fill="#6CBDE7"/>
<path d="M578.1 125.1H596.5" stroke="#00FF00" stroke-width="1"/>
<text x="606.3" y="128.6" font-size="8.3" font-style="italic" fill="#222">Saccharina latissima</text>
<rect x="576.9" y="137.4" width="21" height="21" fill="#4BAD7A"/>
<path d="M578.1 147.9H596.5" stroke="#0000FF" stroke-width="1"/>
<text x="606.3" y="151.4" font-size="8.3" font-style="italic" fill="#222">Zostera marina</text>
</svg></body></html>
